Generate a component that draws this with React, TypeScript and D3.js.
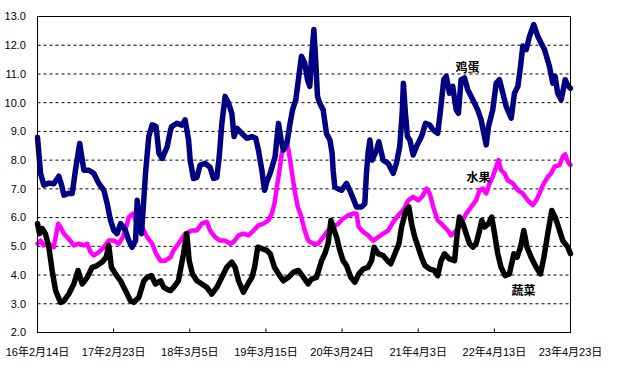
import React from 'react';
import * as d3 from 'd3';

// days since 16年2月14日, value
const eggData: [number, number][] = [
    [0, 8.8], [15, 7.54], [31, 7.13], [56, 7.2], [80, 7.18], [105, 7.44], [118, 7.15], [130, 6.78],
    [154, 6.85], [171, 6.84], [187, 7.65], [208, 8.58], [228, 7.65], [253, 7.65], [277, 7.54],
    [302, 7.19], [327, 6.95], [343, 6.49], [360, 5.9], [376, 5.55], [392, 5.44], [409, 5.79],
    [420, 5.7], [433, 5.55], [450, 5.2], [466, 4.97], [483, 5.2], [491, 6.6], [499, 6.02],
    [512, 5.44], [519, 6.14], [532, 7.54], [548, 8.82], [565, 9.23], [584, 9.17], [598, 8.24],
    [614, 8.06], [639, 8.47], [655, 9.05], [661, 9.17], [686, 9.28], [711, 9.22], [727, 9.4],
    [744, 8.7], [752, 8.0], [768, 7.36], [785, 7.4], [801, 7.83], [826, 7.89], [850, 7.75],
    [867, 7.36], [883, 7.4], [895, 8.12], [908, 9.28], [924, 10.22], [941, 9.98], [957, 9.63],
    [968, 8.82], [982, 9.11], [1006, 8.93], [1031, 8.76], [1056, 8.82], [1075, 8.76], [1088, 8.35],
    [1105, 7.65], [1118, 6.95], [1129, 7.24], [1146, 7.54], [1170, 8.12], [1187, 9.28], [1200, 8.7],
    [1211, 8.35], [1228, 8.58], [1244, 9.28], [1256, 9.75], [1272, 10.1], [1285, 10.8], [1300, 11.62],
    [1316, 11.38], [1330, 10.8], [1341, 10.57], [1349, 11.5], [1361, 12.55], [1369, 11.62],
    [1379, 10.22], [1390, 9.98], [1407, 9.75], [1423, 8.93], [1440, 8.7], [1451, 8.24], [1456, 7.65],
    [1464, 7.07], [1481, 7.0], [1497, 6.95], [1522, 7.19], [1538, 6.95], [1555, 6.66], [1571, 6.37],
    [1596, 6.37], [1612, 6.49], [1620, 7.54], [1628, 8.24], [1637, 8.7], [1648, 8.0], [1670, 8.35],
    [1681, 8.64], [1702, 8.0], [1727, 7.89], [1752, 7.54], [1768, 7.9], [1784, 8.47], [1796, 9.63],
    [1802, 10.68], [1812, 9.63], [1822, 8.82], [1834, 8.7], [1850, 8.18], [1866, 8.47], [1891, 8.82],
    [1911, 9.28], [1932, 9.22], [1949, 9.05], [1971, 8.93], [1985, 9.75], [2001, 10.8], [2013, 10.92],
    [2029, 10.33], [2045, 10.57], [2062, 9.75], [2073, 9.63], [2086, 10.8], [2103, 10.86],
    [2119, 10.45], [2144, 10.1], [2168, 9.75], [2185, 9.4], [2198, 8.93], [2210, 8.53], [2221, 9.17],
    [2242, 9.75], [2259, 10.68], [2275, 10.8], [2292, 10.33], [2308, 9.87], [2333, 9.46],
    [2349, 10.33], [2366, 10.57], [2379, 11.27], [2390, 11.97], [2407, 11.85], [2423, 12.31],
    [2444, 12.72], [2464, 12.31], [2480, 12.08], [2497, 11.85], [2521, 11.27], [2538, 10.68],
    [2549, 10.92], [2562, 10.33], [2579, 10.1], [2599, 10.8], [2612, 10.6], [2625, 10.5]
];

const fruitData: [number, number][] = [
    [0, 5.09], [15, 5.2], [31, 5.03], [56, 5.09], [80, 4.97], [102, 5.79], [113, 5.67], [130, 5.44],
    [154, 5.26], [179, 5.03], [204, 5.09], [228, 5.03], [245, 5.09], [261, 4.8], [277, 4.68],
    [302, 4.8], [327, 4.97], [351, 5.2], [376, 5.2], [400, 5.09], [420, 5.32], [437, 5.67],
    [450, 6.02], [470, 6.14], [483, 5.9], [507, 5.79], [524, 5.55], [540, 5.32], [565, 5.09],
    [584, 4.74], [606, 4.5], [630, 4.5], [655, 4.62], [670, 4.86], [694, 5.09], [727, 5.44],
    [760, 5.55], [785, 5.55], [809, 5.79], [834, 5.85], [850, 5.55], [875, 5.32], [899, 5.2],
    [924, 5.2], [949, 5.09], [965, 5.15], [990, 5.38], [1014, 5.44], [1039, 5.38], [1064, 5.55],
    [1088, 5.73], [1113, 5.79], [1137, 5.9], [1154, 6.14], [1167, 6.49], [1179, 7.07], [1192, 7.65],
    [1203, 8.24], [1220, 8.58], [1233, 8.47], [1244, 8.0], [1256, 7.42], [1269, 6.84], [1282, 6.37],
    [1297, 6.08], [1316, 5.55], [1333, 5.2], [1358, 5.09], [1382, 5.09], [1407, 5.32], [1431, 5.55],
    [1456, 5.67], [1481, 5.79], [1505, 5.96], [1530, 6.08], [1555, 6.14], [1571, 6.14], [1582, 5.67],
    [1604, 5.5], [1628, 5.38], [1653, 5.2], [1678, 5.32], [1702, 5.44], [1727, 5.55], [1752, 5.85],
    [1776, 6.08], [1801, 6.25], [1826, 6.6], [1850, 6.72], [1875, 6.6], [1894, 6.72], [1916, 7.01],
    [1932, 6.84], [1949, 6.37], [1971, 5.9], [1988, 5.79], [2004, 5.67], [2021, 5.55], [2037, 5.38],
    [2062, 5.55], [2087, 5.79], [2111, 6.14], [2136, 6.37], [2160, 6.6], [2177, 6.95], [2193, 7.01],
    [2210, 6.84], [2226, 7.19], [2242, 7.42], [2259, 7.77], [2270, 8.0], [2283, 7.65], [2300, 7.54],
    [2316, 7.3], [2341, 7.19], [2366, 6.95], [2390, 6.84], [2415, 6.6], [2439, 6.43], [2456, 6.6],
    [2472, 6.84], [2489, 7.13], [2513, 7.42], [2530, 7.54], [2546, 7.77], [2571, 7.83], [2587, 8.12],
    [2599, 8.2], [2612, 7.94], [2625, 7.83]
];

const vegData: [number, number][] = [
    [0, 5.79], [10, 5.44], [23, 5.62], [39, 5.44], [56, 4.97], [72, 4.16], [89, 3.46], [113, 3.05],
    [130, 3.1], [154, 3.34], [179, 3.69], [200, 4.16], [220, 3.69], [245, 3.92], [269, 4.27],
    [294, 4.33], [318, 4.45], [338, 4.62], [351, 5.03], [364, 4.27], [384, 4.04], [409, 3.8],
    [433, 3.46], [458, 3.1], [474, 3.05], [499, 3.22], [524, 3.8], [540, 3.92], [561, 3.98],
    [581, 3.69], [606, 3.8], [622, 3.57], [639, 3.5], [655, 3.46], [670, 3.57], [694, 3.8],
    [719, 4.74], [735, 5.44], [747, 4.5], [763, 4.04], [785, 3.8], [809, 3.69], [834, 3.57],
    [858, 3.34], [883, 3.57], [908, 3.92], [932, 4.27], [957, 4.45], [973, 4.27], [990, 3.8],
    [1014, 3.4], [1036, 3.69], [1056, 3.92], [1069, 4.27], [1085, 4.97], [1105, 4.92], [1129, 4.86],
    [1146, 4.74], [1167, 4.27], [1187, 4.04], [1211, 3.8], [1236, 3.92], [1261, 4.1], [1285, 4.16],
    [1310, 3.92], [1333, 3.69], [1349, 3.86], [1374, 3.92], [1399, 4.5], [1415, 4.74], [1431, 5.09],
    [1445, 5.9], [1456, 5.67], [1473, 5.32], [1489, 4.86], [1505, 4.5], [1522, 4.33], [1543, 3.92],
    [1563, 3.75], [1583, 4.04], [1604, 4.21], [1628, 4.27], [1645, 4.5], [1658, 4.97], [1678, 4.74],
    [1702, 4.68], [1724, 4.5], [1740, 4.39], [1760, 4.74], [1780, 5.09], [1793, 5.67], [1812, 6.2],
    [1829, 6.37], [1842, 5.79], [1858, 5.32], [1875, 4.97], [1891, 4.62], [1908, 4.33], [1932, 4.21],
    [1954, 4.16], [1971, 3.98], [1988, 4.5], [2004, 4.74], [2029, 4.56], [2054, 4.5], [2067, 5.44],
    [2078, 6.02], [2095, 5.79], [2111, 5.44], [2128, 5.09], [2144, 4.97], [2160, 5.09], [2177, 5.55],
    [2188, 5.9], [2201, 5.67], [2221, 5.79], [2237, 6.02], [2251, 5.44], [2267, 4.74], [2283, 4.27],
    [2303, 3.98], [2324, 4.04], [2346, 4.74], [2362, 4.62], [2379, 4.97], [2395, 5.55], [2411, 4.97],
    [2431, 4.62], [2456, 4.27], [2477, 4.04], [2494, 4.62], [2513, 5.44], [2533, 6.25], [2549, 6.02],
    [2566, 5.67], [2587, 5.2], [2612, 4.97], [2625, 4.74]
];

const seriesNames = ['水果', '鸡蛋', '蔬菜'];
const seriesColours = ['#ff00ff', '#000080', '#000000'];
const seriesData = [fruitData, eggData, vegData];
// label anchor in data units: [day, value]
const labelPos: [number, number][] = [[2172, 7.4], [2118, 11.22], [2394, 3.45]];

const startDate = new Date(Date.UTC(2016, 1, 14));
const tickStepDays = 375;
const tickCount = 8;
const yTicks = d3.range(2, 13.01, 1);

const width = 624;
const height = 371;
const margin = { top: 16.5, right: 53.5, bottom: 38.5, left: 37.5 };

export default function App() {
    const toDate = (d: number) => d3.utcDay.offset(startDate, d);
    const xScale = d3.scaleUtc()
        .domain([startDate, toDate(tickStepDays * (tickCount - 1))])
        .range([margin.left, width - margin.right]);
    const yScale = d3.scaleLinear()
        .domain([2, 13])
        .range([height - margin.bottom, margin.top]);

    const line = d3.line<[number, number]>()
        .x(d => xScale(toDate(d[0])))
        .y(d => yScale(d[1]));

    const xTicks = d3.range(tickCount).map(i => toDate(i * tickStepDays));
    const fmt = d3.utcFormat('%y年%-m月%-d日');
    const x0 = margin.left, x1 = width - margin.right;
    const y0 = height - margin.bottom, y1 = margin.top;

    return (
        <svg width={width} height={height}
            style={{ position: 'absolute', left: 0, top: 0, background: '#fff' }}
            fontFamily="'Liberation Sans', 'Noto Sans CJK SC', sans-serif">
            {yTicks.filter(t => t > 2 && t < 13).map(t => (
                <line key={'g' + t} x1={x0} x2={x1} y1={yScale(t)} y2={yScale(t)}
                    stroke="#000" strokeWidth={1} strokeDasharray="3,3" />
            ))}
            {yTicks.map(t => (
                <text key={'yt' + t} x={26} y={yScale(t)} dy="0.35em" textAnchor="end"
                    fontSize={11} fill="#000">{t.toFixed(1)}</text>
            ))}
            {xTicks.map((t, i) => (
                <g key={'xt' + i}>
                    <line x1={xScale(t)} x2={xScale(t)} y1={y0} y2={y0 - 4} stroke="#000" />
                    <text x={xScale(t)} y={356} textAnchor="middle" fontSize={11} fill="#000">{fmt(t)}</text>
                </g>
            ))}
            {seriesData.map((data, i) => (
                <path key={'s' + i} d={line(data) || ''} fill="none" stroke={seriesColours[i]}
                    strokeWidth={i === 0 ? 4.5 : 5.5} strokeLinejoin="round" strokeLinecap="round" />
            ))}
            <rect x={x0} y={y1} width={x1 - x0} height={y0 - y1} fill="none" stroke="#000" strokeWidth={1} />
            {seriesNames.map((name, i) => (
                <text key={'l' + i} x={xScale(toDate(labelPos[i][0]))} y={yScale(labelPos[i][1])}
                    dy="0.35em" textAnchor="middle" fontSize={12} fontWeight="bold" fill="#000">{name}</text>
            ))}
        </svg>
    );
}
